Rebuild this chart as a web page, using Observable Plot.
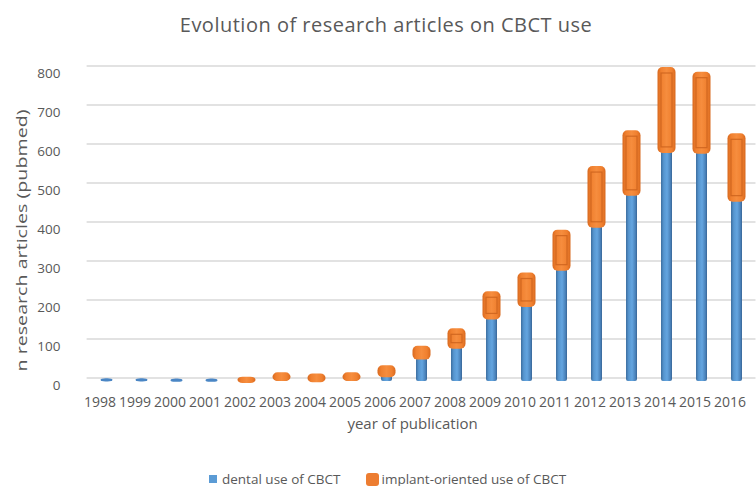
<!DOCTYPE html>
<html>
<head>
<meta charset="utf-8">
<script src="https://cdn.jsdelivr.net/npm/d3@7"></script>
<script src="https://cdn.jsdelivr.net/npm/@observablehq/plot@0.6"></script>
<style>
  body { margin: 0; background: #fff; font-family: "Open Sans", sans-serif; color: #595959; overflow: hidden; }
  #title { height: 45px; line-height: 50px; text-align: center; font-size: 20px; letter-spacing: 0.5px; width: 772px; }
  #legend { margin-top: 27px; height: 14px; line-height: 14px; display: flex; align-items: center; font-size: 13.5px; padding-left: 209px; }
  .sw { display: inline-block; }
</style>
</head>
<body>
<div id="title">Evolution of research articles on CBCT use</div>
<div id="chart"></div>
<div id="legend">
  <span class="sw" style="width:8px;height:8px;background:#5B9BD5;margin-right:5px"></span><span>dental use of CBCT</span>
  <span class="sw" style="width:13px;height:13px;background:#ED7D31;border-radius:3px;margin-left:26px;margin-right:2px"></span><span>implant-oriented use of CBCT</span>
</div>
<script>
const years = ["1998","1999","2000","2001","2002","2003","2004","2005","2006","2007","2008","2009","2010","2011","2012","2013","2014","2015","2016"];
const dental = [3, 3, 2, 2, 0, 5, 2, 5, 15, 60, 88, 163, 195, 288, 398, 480, 590, 588, 465];
const implant = [0, 0, 0, 0, 6, 12, 12, 12, 20, 25, 42, 62, 78, 95, 148, 158, 210, 200, 165];
const yTicks = [0, 100, 200, 300, 400, 500, 600, 700, 800];
const xTitle = "year of publication";
const yTitle = "n research articles (pubmed)";

const rows = years.map((year, i) => ({year, dental: dental[i], implant: implant[i], top: dental[i] + implant[i]}));

const ML = 86.6;
const plot = Plot.plot({
  width: 756,
  height: 400,
  marginTop: 24,
  marginBottom: 64,
  marginLeft: ML,
  marginRight: 0.5,
  style: {fontFamily: "Open Sans, sans-serif", fontSize: "13px", color: "#595959", background: "#fff"},
  x: {type: "band", domain: years, paddingInner: 0.69, paddingOuter: 0.25, axis: null},
  y: {domain: [0, 800], axis: null},
  marks: [
    Plot.ruleY(yTicks, {y: d => d, stroke: "#D9D9D9", strokeWidth: 1.4, dy: -3.5}),
    Plot.text(yTicks, {y: d => d, text: d => String(d), frameAnchor: "left", textAnchor: "end", dx: 60 - ML, dy: 4, fontSize: 13.5, fill: "#595959"}),
    Plot.barY(rows, {x: "year", y1: 0, y2: "dental", fill: "url(#blueGrad)", rx: 2}),
    Plot.barY(rows.filter(d => d.dental > 0 && d.implant === 0), {x: "year", y1: "dental", y2: "dental", fill: "#4A86C5", rx: 5, insetTop: -1.6, insetBottom: -1.6, insetLeft: -0.5, insetRight: -0.5}),
    Plot.barY(rows.filter(d => d.implant > 0), {x: "year", y1: "dental", y2: "top", fill: "url(#orangeGrad)", rx: 5, insetLeft: -3.5, insetRight: -3.5, insetTop: -2, insetBottom: -2}),
    Plot.barY(rows.filter(d => d.implant > 30), {x: "year", y1: "dental", y2: "top", fill: "none", stroke: "#C9601C", strokeOpacity: 0.8, strokeWidth: 1.2, insetTop: 4, insetBottom: 4}),
    Plot.text(years, {x: d => d, text: d => d, frameAnchor: "bottom", dx: -7, dy: 25, fontSize: 14, fill: "#595959"}),
    Plot.text([xTitle], {frameAnchor: "bottom", dx: -9, dy: 47, fontSize: 15, fill: "#595959"}),
    Plot.text([yTitle], {frameAnchor: "left", textAnchor: "middle", rotate: -90, dx: 22 - ML, dy: 15, fontSize: 14.5, fill: "#595959"})
  ]
});

const svg = d3.select(plot);
const defs = svg.insert("defs", ":first-child");
const bg = defs.append("linearGradient").attr("id", "blueGrad").attr("x1", 0).attr("x2", 1).attr("y1", 0).attr("y2", 0);
[[0, "#3D6E9F"], [0.25, "#5696D0"], [0.55, "#64A5E0"], [0.85, "#4A82BA"], [1, "#386596"]].forEach(([o, c]) => bg.append("stop").attr("offset", o).attr("stop-color", c));
const og = defs.append("linearGradient").attr("id", "orangeGrad").attr("x1", 0).attr("x2", 1).attr("y1", 0).attr("y2", 0);
[[0, "#D8691F"], [0.2, "#F0802F"], [0.5, "#F68D3E"], [0.8, "#F0802F"], [1, "#D8691F"]].forEach(([o, c]) => og.append("stop").attr("offset", o).attr("stop-color", c));
svg.selectAll("text").filter(function() { return this.textContent === yTitle; })
  .attr("textLength", 262).attr("lengthAdjust", "spacingAndGlyphs");

document.getElementById("chart").appendChild(plot);
</script>
</body>
</html>
